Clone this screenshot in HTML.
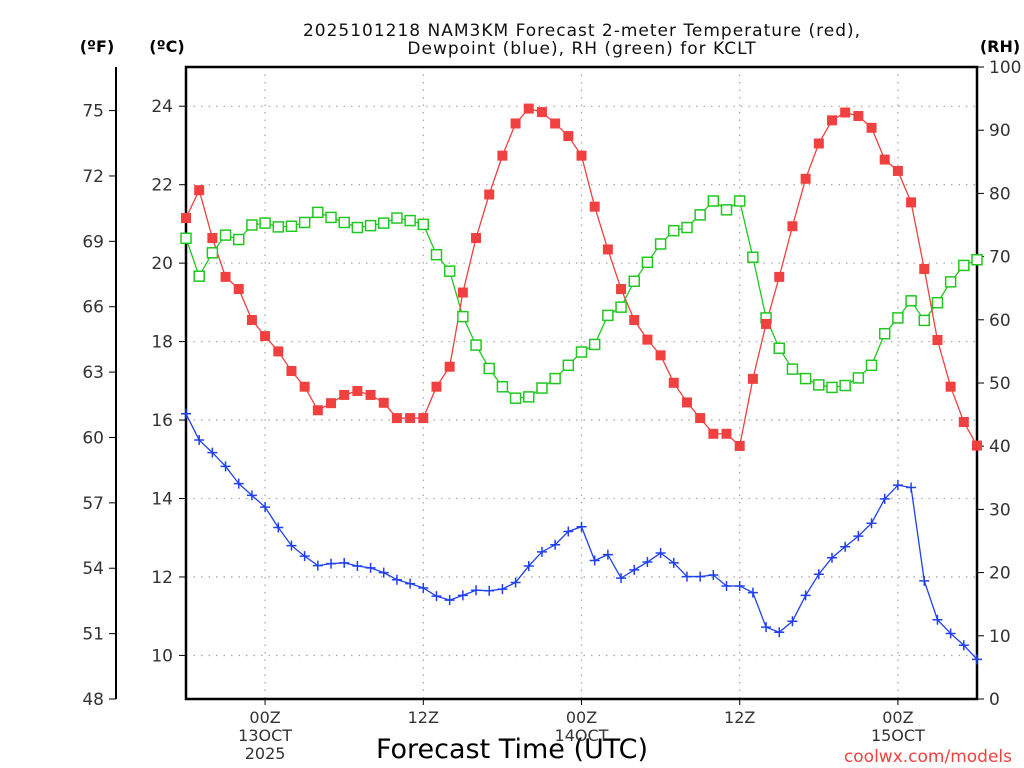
<!DOCTYPE html>
<html><head><meta charset="utf-8"><style>
body{margin:0;background:#fff;}
svg{display:block;font-family:"DejaVu Sans","Liberation Sans",sans-serif;}
</style></head><body>
<svg id="chart" width="1024" height="768" xmlns="http://www.w3.org/2000/svg">
<text x="582" y="36" text-anchor="middle" font-size="17" letter-spacing="1" fill="#111">2025101218 NAM3KM Forecast 2-meter Temperature (red),</text>
<text x="582" y="54" text-anchor="middle" font-size="17" letter-spacing="1" fill="#111">Dewpoint (blue), RH (green) for KCLT</text>
<text x="97" y="52" text-anchor="middle" font-size="16" font-weight="bold" fill="#000">(ºF)</text>
<text x="167" y="52" text-anchor="middle" font-size="16" font-weight="bold" fill="#000">(ºC)</text>
<text x="1000" y="52" text-anchor="middle" font-size="16" font-weight="bold" fill="#000">(RH)</text>
<text x="512" y="758" text-anchor="middle" font-size="27" fill="#000">Forecast Time (UTC)</text>
<text x="1012" y="762" text-anchor="end" font-size="17" fill="#f04040">coolwx.com/models</text>
<g id="grid"></g><g id="axes"></g><g id="series"></g>
</svg>
<script>
const hours = [];
for (let h = 0; h <= 60; h++) hours.push(h);
const tempC = [21.15,21.86,20.64,19.65,19.34,18.55,18.14,17.75,17.25,16.85,16.25,16.43,16.64,16.74,16.64,16.44,16.05,16.05,16.05,16.85,17.36,19.25,20.64,21.75,22.74,23.56,23.94,23.85,23.56,23.24,22.74,21.44,20.35,19.34,18.55,18.05,17.65,16.95,16.45,16.05,15.65,15.65,15.34,17.05,18.45,19.65,20.94,22.15,23.05,23.64,23.84,23.75,23.45,22.64,22.35,21.55,19.85,18.04,16.85,15.95,15.35];
const dewC = [16.16,15.49,15.17,14.82,14.38,14.08,13.78,13.26,12.80,12.53,12.29,12.34,12.36,12.28,12.23,12.11,11.93,11.83,11.72,11.51,11.41,11.53,11.66,11.65,11.69,11.86,12.28,12.64,12.82,13.16,13.28,12.42,12.57,11.97,12.18,12.38,12.61,12.36,12.01,12.01,12.05,11.77,11.77,11.60,10.72,10.59,10.87,11.53,12.07,12.49,12.77,13.04,13.37,13.99,14.34,14.28,11.90,10.91,10.56,10.26,9.90];
const rh = [72.9,66.9,70.6,73.4,72.7,75.0,75.3,74.7,74.8,75.4,77.0,76.2,75.4,74.6,74.9,75.3,76.1,75.7,75.1,70.3,67.7,60.5,56.0,52.3,49.4,47.6,47.8,49.2,50.7,52.8,54.9,56.1,60.7,62.0,66.1,69.1,72.0,74.1,74.6,76.6,78.8,77.4,78.8,69.9,60.3,55.5,52.2,50.7,49.7,49.3,49.6,50.8,52.8,57.8,60.3,63.0,59.9,62.7,66.0,68.6,69.5];
const cTicks = [10,12,14,16,18,20,22,24];
const fTicks = [48,51,54,57,60,63,66,69,72,75];
const rhTicks = [0,10,20,30,40,50,60,70,80,90,100];
const xTickHours = [6,18,30,42,54];
const xTickLabels = [["00Z","13OCT","2025"],["12Z"],["00Z","14OCT"],["12Z"],["00Z","15OCT"]];

const L=186,R=977,T=67,B=699;
const cMin=(48-32)*5/9, cMax=(77-32)*5/9;
const xS=h=>L+(R-L)*h/60;
const yC=c=>B-(B-T)*(c-cMin)/(cMax-cMin);
const yF=f=>yC((f-32)*5/9);
const yR=r=>B-(B-T)*r/100;
const NS="http://www.w3.org/2000/svg";
function mk(tag,attrs,parent){const e=document.createElementNS(NS,tag);for(const k in attrs)e.setAttribute(k,attrs[k]);parent.appendChild(e);return e;}
const grid=document.getElementById('grid'),axes=document.getElementById('axes'),ser=document.getElementById('series');

cTicks.forEach(c=>{
  const g=mk('line',{x1:L,x2:R,y1:yC(c),y2:yC(c),stroke:'#aaa','stroke-width':1.3,'stroke-dasharray':'1.5,6'},grid);
  
  
  const t=mk('line',{x1:L-7,x2:L,y1:yC(c),y2:yC(c),stroke:'#000','stroke-width':1},axes);
  
  
  const lb=mk('text',{x:L-13,y:yC(c)+6,'text-anchor':'end','font-size':17,fill:'#333'},axes);
  lb.textContent=c;
  
  
});
xTickHours.forEach((h,i)=>{
  const g=mk('line',{x1:xS(h),x2:xS(h),y1:T,y2:B,stroke:'#aaa','stroke-width':1.3,'stroke-dasharray':'1.5,6'},grid);
  
  
  const t=mk('line',{x1:xS(h),x2:xS(h),y1:B,y2:B+6,stroke:'#000','stroke-width':1},axes);
  
  
  xTickLabels[i].forEach((s,j)=>{
    const lb=mk('text',{x:xS(h),y:723+j*18,'text-anchor':'middle','font-size':16,fill:'#333'},axes);
    lb.textContent=s;
    
    
  });
});
const fl=mk('line',{x1:116,x2:116,y1:T,y2:B,stroke:'#000','stroke-width':2},axes);


fTicks.forEach(f=>{
  const t=mk('line',{x1:109,x2:116,y1:yF(f),y2:yF(f),stroke:'#000','stroke-width':1},axes);
  
  
  const lb=mk('text',{x:104,y:yF(f)+6,'text-anchor':'end','font-size':17,fill:'#333'},axes);
  lb.textContent=f;
  
  
});
rhTicks.forEach(r=>{
  const t=mk('line',{x1:R,x2:R+7,y1:yR(r),y2:yR(r),stroke:'#000','stroke-width':1},axes);
  
  
  const lb=mk('text',{x:R+12,y:yR(r)+6,'text-anchor':'start','font-size':17,fill:'#333'},axes);
  lb.textContent=r;
  
  
});
const box=mk('rect',{x:L,y:T,width:R-L,height:B-T,fill:'none',stroke:'#000','stroke-width':2.5},axes);



function line(vals,yf,color,name){
  const p=mk('polyline',{points:vals.map((v,i)=>xS(hours[i])+','+yf(v)).join(' '),fill:'none',stroke:color,'stroke-width':1.3},ser);
  
  
}
line(rh,yR,'#20c820','rh-line');
line(tempC,yC,'#f04040','temperature-line');
line(dewC,yC,'#2040f0','dewpoint-line');
rh.forEach((v,i)=>{
  const m=mk('rect',{x:xS(hours[i])-5,y:yR(v)-5,width:10,height:10,fill:'#fff',stroke:'#20c820','stroke-width':1.5},ser);
  
  
});
tempC.forEach((v,i)=>{
  const m=mk('rect',{x:xS(hours[i])-5,y:yC(v)-5,width:10,height:10,fill:'#f04040'},ser);
  
  
});
dewC.forEach((v,i)=>{
  const x=xS(hours[i]),y=yC(v);
  const m=mk('path',{d:`M${x-5},${y}H${x+5}M${x},${y-5}V${y+5}`,stroke:'#2040f0','stroke-width':1.5},ser);
  
  
});
</script>
</body></html>
